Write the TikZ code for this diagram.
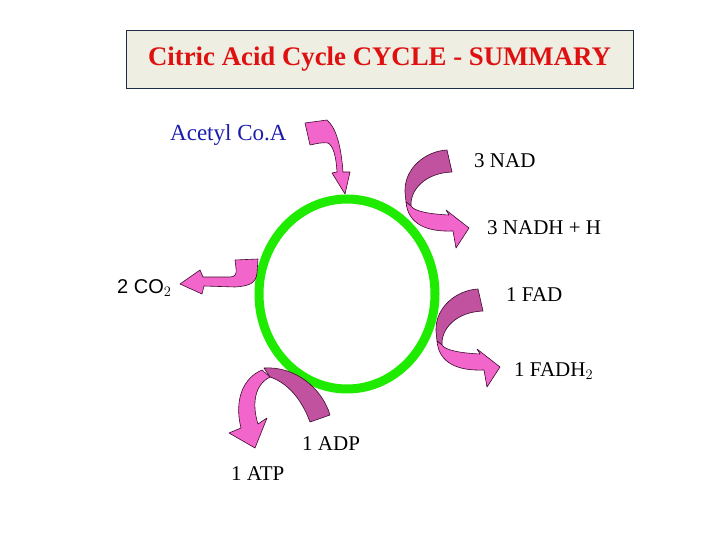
\documentclass[tikz,border=0pt]{standalone}
\usepackage{fontspec}
\setmainfont{Liberation Serif}
\setsansfont{Liberation Sans}
\usepackage{tikz}
\definecolor{titlered}{RGB}{222,16,16}
\definecolor{titlebg}{RGB}{238,238,226}
\definecolor{titleframe}{RGB}{30,45,70}
\definecolor{cyclegreen}{RGB}{30,235,0}
\definecolor{arrowpink}{RGB}{242,102,204}
\definecolor{arrowpurple}{RGB}{192,82,160}
\definecolor{arrowline}{RGB}{60,10,45}
\definecolor{acetylblue}{RGB}{28,28,170}
\tikzset{
  pinkarr/.style={fill=arrowpink, draw=arrowline, line width=0.6pt, line join=round},
  purplearr/.style={fill=arrowpurple, draw=arrowline, line width=0.6pt, line join=round},
  lbl/.style={anchor=base west, inner sep=0pt, font=\fontsize{21}{25}\selectfont}
}

\begin{document}
\begin{tikzpicture}[x=1pt, y=-1pt]
\useasboundingbox (0,0) rectangle (720,540);
\node[draw=titleframe, fill=titlebg, line width=0.8pt, minimum width=507pt, minimum height=58pt, inner sep=0pt, text=titlered, font=\bfseries\fontsize{26.8}{30}\selectfont] (title) at (379.5,59) {\raisebox{-3pt}{Citric Acid Cycle CYCLE - SUMMARY}};
\draw[cyclegreen, line width=9pt] (347,294) ellipse [x radius=88, y radius=95];
\draw[pinkarr] (305,123) -- (327,120) .. controls (336,128) and (341,145) .. (343,172) -- (350,172) -- (345,194) -- (332,173) -- (337,172) .. controls (336,155) and (333,146) .. (328,143) .. controls (322,142) and (315,144) .. (310,145) -- cycle;
\foreach \dx/\dy in {0/0, 31/139} {
  \begin{scope}[shift={(\dx,\dy)}]
  \draw[purplearr] (447,150) .. controls (426,151) and (404,168) .. (405,192) -- (406,202) -- (411,206) .. controls (410,190) and (425,173) .. (452,172) -- cycle;
  \draw[pinkarr] (406,202) .. controls (408,225) and (428,232) .. (453,231) -- (456,248) -- (469,228) -- (446,210) -- (449,215) .. controls (428,214) and (414,211) .. (411,206) -- cycle;
  \end{scope}
}
\draw[pinkarr] (235,260) -- (258,259) -- (257,273) .. controls (256,283) and (250,286) .. (235,287) -- (204,286) -- (202,294) -- (180,284) -- (200,270) -- (203,277) -- (230,277) .. controls (235,277) and (237,274) .. (236,268) -- cycle;
\draw[purplearr] (264,368) .. controls (295,366) and (322,388) .. (330,415) -- (310,422) .. controls (302,400) and (288,383) .. (270,377) -- cycle;
\draw[pinkarr] (262,370) .. controls (243,378) and (234,400) .. (241,428) -- (229,433) -- (255,448) -- (267,418) -- (258,424) .. controls (252,405) and (254,385) .. (270,377) -- cycle;
\node[lbl, text=acetylblue, font=\fontsize{23}{27}\selectfont] (acetyl) at (170,141) {Acetyl Co.A};
\node[lbl] (nad) at (474,168) {3 NAD};
\node[lbl] (nadh) at (487,235) {3 NADH + H};
\node[lbl, font=\sffamily\fontsize{20}{24}\selectfont] (co2) at (117,293) {2 CO$_2$};
\node[lbl] (fad) at (506,301) {1 FAD};
\node[lbl] (fadh) at (514,376) {1 FADH$_2$};
\node[lbl] (adp) at (302,450) {1 ADP};
\node[lbl] (atp) at (231,480) {1 ATP};
\end{tikzpicture}
\end{document}
